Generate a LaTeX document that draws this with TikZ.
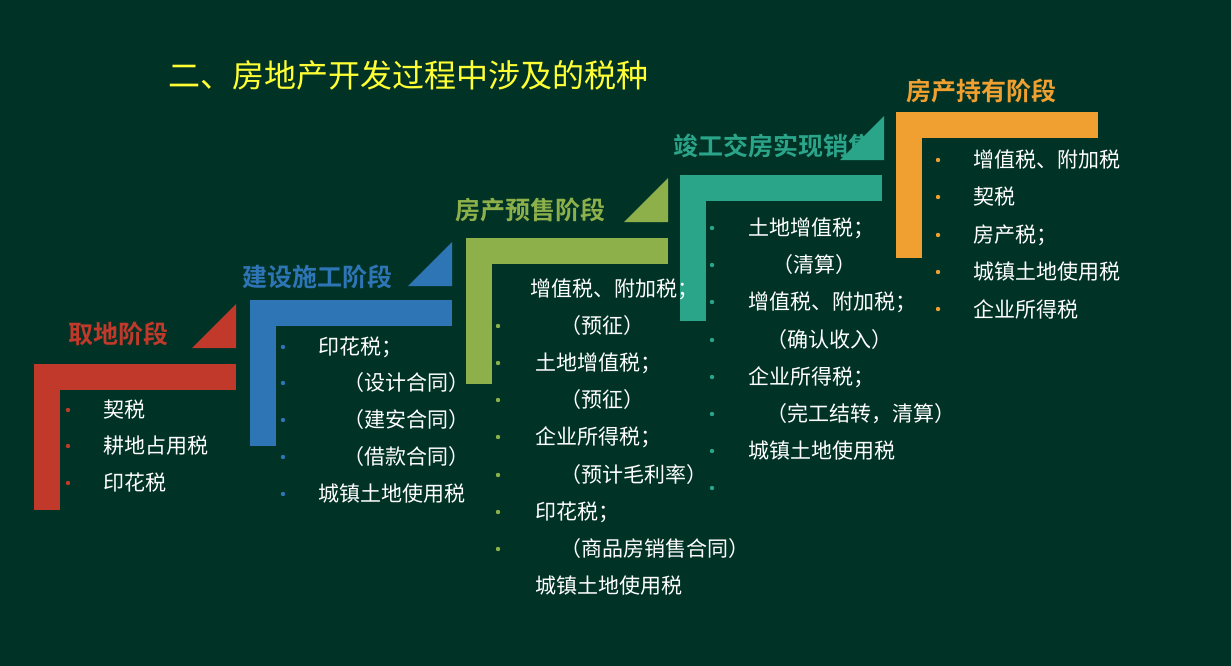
\documentclass[tikz,border=0pt]{standalone}
\usepackage{fontspec}
\setmainfont{Noto Sans CJK SC}
\newfontfamily\cjkb{Noto Sans CJK SC Bold}
\definecolor{bg}{HTML}{003326}
\definecolor{cr}{HTML}{C0392B}
\definecolor{cb}{HTML}{2E75B6}
\definecolor{cg}{HTML}{8DB04A}
\definecolor{ct}{HTML}{2BA58A}
\definecolor{co}{HTML}{F0A030}
\definecolor{ty}{HTML}{FFFF33}
\begin{document}
\begin{tikzpicture}[x=1pt,y=-1pt,
  itm/.style={anchor=west,text=white,font=\fontsize{21}{24}\selectfont,inner sep=0},
  lbl/.style={anchor=west,font=\cjkb\fontsize{25}{28}\selectfont,inner sep=0}]
\fill[bg] (0,0) rectangle (1231,666);
\useasboundingbox (0,0) rectangle (1231,666);
\node[anchor=west,text=ty,font=\fontsize{32}{36}\selectfont,inner sep=0] (title) at (168,75) {二、房地产开发过程中涉及的税种};
% stage shapes
\foreach \x/\y/\c/\n in {34/364/cr/a,250/300/cb/b,466/238/cg/c,680/175/ct/d,896/112/co/e}{
  \fill[\c] (\x,\y) rectangle ++(202,26);
  \fill[\c] (\x,\y) rectangle ++(26,146);
}
\foreach \x/\y/\c in {236/348/cr,452/286/cb,668/222/cg,884/160/ct}{
  \fill[\c] (\x,\y) -- ++(-44,0) -- ++(44,-44) -- cycle;
}
\node[lbl,text=cr] (la) at (68,334) {取地阶段};
\node[lbl,text=cb] (lb) at (242,277) {建设施工阶段};
\node[lbl,text=cg] (lc) at (455,210) {房产预售阶段};
\node[lbl,text=ct] (ld) at (673,146) {竣工交房实现销售};
\node[lbl,text=co] (le) at (906,91) {房产持有阶段};
% bullets
\foreach \y in {410,446,483} \fill[cr] (68,\y) circle (2.2);
\foreach \y in {347,383,420,457,494} \fill[cb] (283,\y) circle (2.2);
\foreach \y in {326,363,400,437,475,512,549} \fill[cg] (498,\y) circle (2.2);
\foreach \y in {228,265,302,340,377,414,451,488} \fill[ct] (712,\y) circle (2.2);
\foreach \y in {160,197,235,272,309} \fill[co] (938,\y) circle (2.2);
% texts
\node[itm] (a1) at (103,410) {契税};
\node[itm] (a2) at (103,446) {耕地占用税};
\node[itm] (a3) at (103,483) {印花税};
\node[itm] (b1) at (318,347) {印花税；};
\node[itm] (b2) at (343,383) {（设计合同）};
\node[itm] (b3) at (343,420) {（建安合同）};
\node[itm] (b4) at (343,457) {（借款合同）};
\node[itm] (b5) at (318,494) {城镇土地使用税};
\node[itm] (c1) at (530,289) {增值税、附加税；};
\node[itm] (c2) at (560,326) {（预征）};
\node[itm] (c3) at (535,363) {土地增值税；};
\node[itm] (c4) at (560,400) {（预征）};
\node[itm] (c5) at (535,437) {企业所得税；};
\node[itm] (c6) at (560,475) {（预计毛利率）};
\node[itm] (c7) at (535,512) {印花税；};
\node[itm] (c8) at (560,549) {（商品房销售合同）};
\node[itm] (c9) at (535,586) {城镇土地使用税};
\node[itm] (d1) at (748,228) {土地增值税；};
\node[itm] (d2) at (772,265) {（清算）};
\node[itm] (d3) at (748,302) {增值税、附加税；};
\node[itm] (d4) at (766,340) {（确认收入）};
\node[itm] (d5) at (748,377) {企业所得税；};
\node[itm] (d6) at (766,414) {（完工结转，清算）};
\node[itm] (d7) at (748,451) {城镇土地使用税};
\node[itm] (e1) at (973,160) {增值税、附加税};
\node[itm] (e2) at (973,197) {契税};
\node[itm] (e3) at (973,235) {房产税；};
\node[itm] (e4) at (973,272) {城镇土地使用税};
\node[itm] (e5) at (973,309) {企业所得税};
\end{tikzpicture}
\end{document}
